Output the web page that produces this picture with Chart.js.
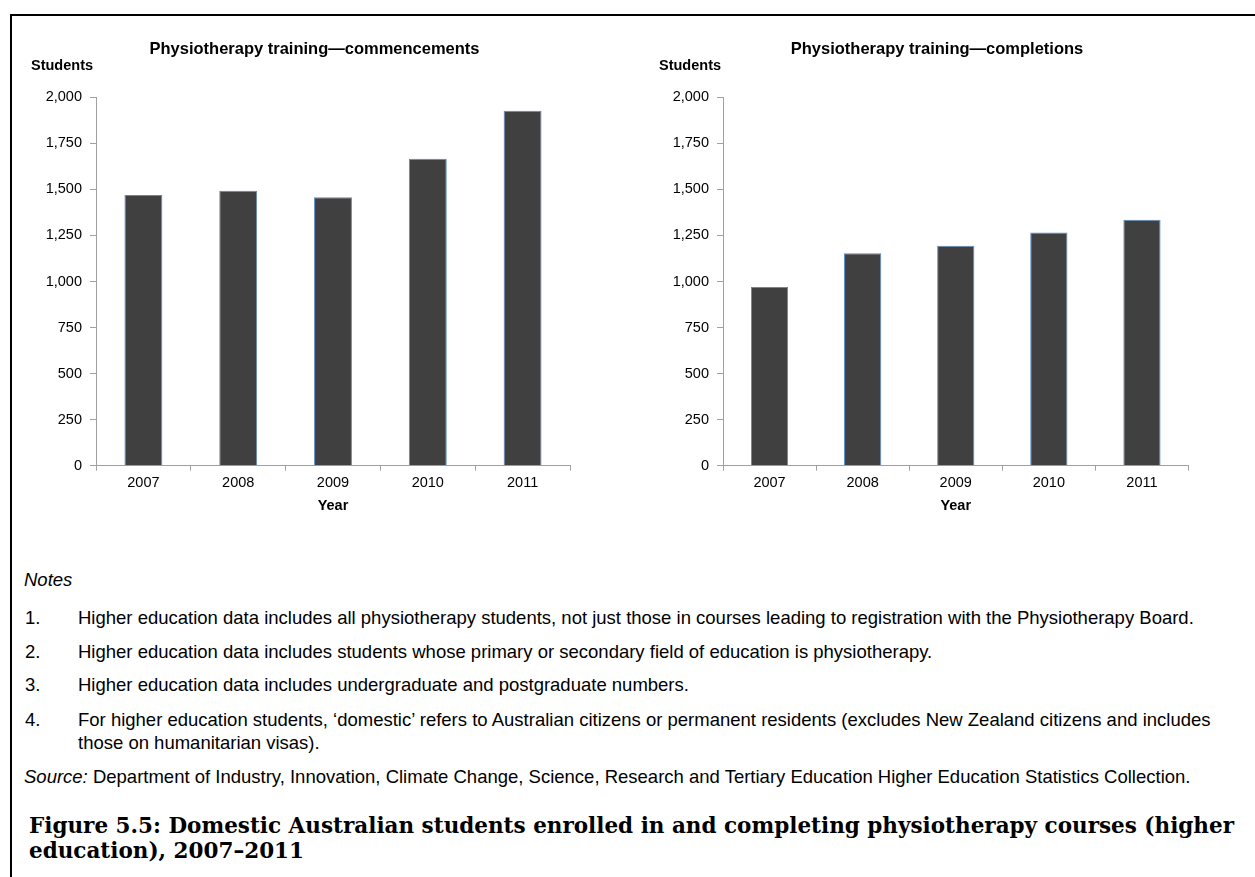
<!DOCTYPE html>
<html>
<head>
<meta charset="utf-8">
<script src="https://cdn.jsdelivr.net/npm/chart.js@4/dist/chart.umd.min.js"></script>
<style>
  html, body { margin:0; padding:0; background:#fff; }
  body { width:1255px; height:877px; position:relative; overflow:hidden; font-family:"Liberation Sans", Arial, sans-serif; color:#000; }
  .frame { position:absolute; left:10px; top:14px; width:1260px; height:900px; border-top:2px solid #000; border-left:2px solid #000; }
  canvas { position:absolute; }
  .abs { position:absolute; white-space:nowrap; }
  .ctitle { font-weight:bold; font-size:16.5px; line-height:20px; text-align:center; width:600px; }
  .ylab { font-weight:bold; font-size:14.5px; line-height:18px; }
  .note { font-size:18.5px; line-height:22px; }
  .fig { font-family:"DejaVu Serif", "Liberation Serif", serif; font-weight:bold; font-size:21.5px; line-height:25px; }
</style>
</head>
<body>
<div class="frame"></div>
<canvas id="c1" width="620" height="530" style="left:0;top:0;width:620px;height:530px"></canvas>
<canvas id="c2" width="635" height="530" style="left:620px;top:0;width:635px;height:530px"></canvas>

<div class="abs ctitle" id="t1" style="left:14.5px;top:38px"></div>
<div class="abs ctitle" id="t2" style="left:637px;top:38px"></div>
<div class="abs ylab" style="left:31px;top:56px">Students</div>
<div class="abs ylab" style="left:659px;top:56px">Students</div>

<div class="abs note" style="left:24px;top:569px;font-style:italic">Notes</div>
<div class="abs note" style="left:25px;top:607px">1.</div>
<div class="abs note" style="left:78px;top:607px">Higher education data includes all physiotherapy students, not just those in courses leading to registration with the Physiotherapy Board.</div>
<div class="abs note" style="left:25px;top:641px">2.</div>
<div class="abs note" style="left:78px;top:641px">Higher education data includes students whose primary or secondary field of education is physiotherapy.</div>
<div class="abs note" style="left:25px;top:674px">3.</div>
<div class="abs note" style="left:78px;top:674px">Higher education data includes undergraduate and postgraduate numbers.</div>
<div class="abs note" style="left:25px;top:709px">4.</div>
<div class="abs note" style="left:78px;top:709px">For higher education students, ‘domestic’ refers to Australian citizens or permanent residents (excludes New Zealand citizens and includes</div>
<div class="abs note" style="left:78px;top:732px">those on humanitarian visas).</div>
<div class="abs note" style="left:24px;top:766px"><i>Source:</i> Department of Industry, Innovation, Climate Change, Science, Research and Tertiary Education Higher Education Statistics Collection.</div>
<div class="abs fig" style="left:29px;top:813px">Figure 5.5: Domestic Australian students enrolled in and completing physiotherapy courses (higher</div>
<div class="abs fig" style="left:29px;top:838px">education), 2007–2011</div>

<script>
// ---- data ----
const years = ['2007', '2008', '2009', '2010', '2011'];
const commencements = [1470, 1493, 1457, 1667, 1927];
const completions = [970, 1154, 1194, 1266, 1335];
const yMin = 0;
const yMax = 2000;
const yStep = 250;
const titles = ['Physiotherapy training\u2014commencements', 'Physiotherapy training\u2014completions'];
const xAxisLabel = 'Year';

document.getElementById('t1').textContent = titles[0];
document.getElementById('t2').textContent = titles[1];

Chart.defaults.font.family = '"Liberation Sans", Arial, sans-serif';
Chart.defaults.color = '#000';

function makeChart(id, values, yWidth, padRight) {
  const axisGrey = '#a0a0a0';
  return new Chart(document.getElementById(id), {
    type: 'bar',
    data: {
      labels: years,
      datasets: [{
        data: values,
        backgroundColor: '#404040',
        borderColor: '#5a8ac6',
        borderWidth: 1,
        categoryPercentage: 1.0,
        barPercentage: 0.4
      }]
    },
    options: {
      responsive: false,
      animation: false,
      devicePixelRatio: 1,
      layout: { padding: { left: 0, right: padRight, top: 97.3, bottom: 0 } },
      plugins: { legend: { display: false }, tooltip: { enabled: false }, title: { display: false } },
      scales: {
        x: {
          type: 'category',
          offset: true,
          grid: { display: true, drawOnChartArea: false, drawTicks: true, tickLength: 5, color: axisGrey, offset: true },
          border: { display: true, color: axisGrey, width: 1 },
          ticks: { color: '#000', font: { size: 14.5 }, padding: 4, maxRotation: 0 },
          title: { display: true, text: xAxisLabel, color: '#000', font: { size: 14.5, weight: 'bold' }, padding: { top: 2, bottom: 15 } },
          afterFit: (s) => { s.height = 64.3; }
        },
        y: {
          min: yMin, max: yMax,
          grid: { display: true, drawOnChartArea: false, drawTicks: true, tickLength: 6, color: axisGrey },
          border: { display: true, color: axisGrey, width: 1 },
          ticks: { stepSize: yStep, color: '#000', font: { size: 14.5 }, padding: 8,
                   callback: (v) => Number(v).toLocaleString('en-US') },
          afterFit: (s) => { s.width = yWidth; }
        }
      }
    }
  });
}

makeChart('c1', commencements, 96, 50);
makeChart('c2', completions, 103, 66.5);
</script>
</body>
</html>
